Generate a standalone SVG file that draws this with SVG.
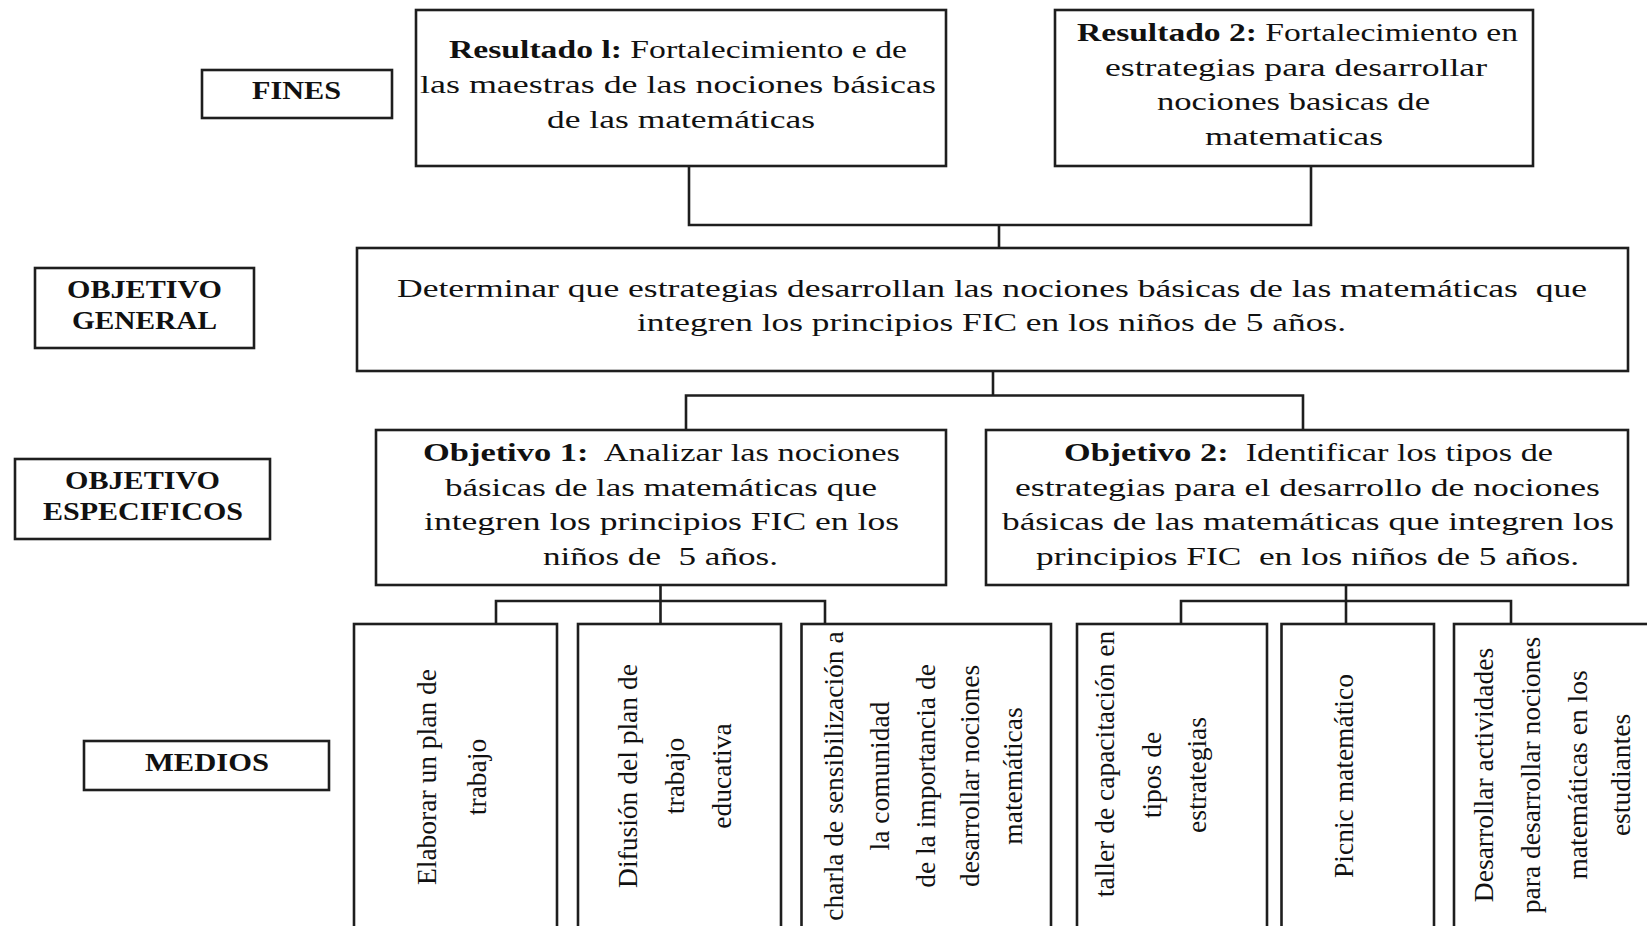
<svg xmlns="http://www.w3.org/2000/svg" width="1647" height="926" viewBox="0 0 1647 926" xml:space="preserve">
<style>
.box{fill:#fff;stroke:#1e1e1e;stroke-width:2.6}
.con{fill:none;stroke:#1e1e1e;stroke-width:2.6}
text{font-family:"Liberation Serif","Times New Roman",serif;fill:#111;white-space:pre}
.t{font-size:26px}
.lb{font-size:26px;font-weight:bold}
.b{font-weight:bold}
.v{font-size:27.5px;text-anchor:middle}
</style>
<rect x="0" y="0" width="1647" height="926" fill="#fff"/>
<g id="connectors">
<polyline class="con" points="689,166 689,225 1311,225 1311,166"/>
<line class="con" x1="999" y1="225" x2="999" y2="248"/>
<line class="con" x1="993" y1="371" x2="993" y2="395.5"/>
<polyline class="con" points="686,430 686,395.5 1303,395.5 1303,430"/>
<line class="con" x1="660.5" y1="585" x2="660.5" y2="624"/>
<polyline class="con" points="496,624 496,601 825,601 825,624"/>
<line class="con" x1="1346" y1="585" x2="1346" y2="624"/>
<polyline class="con" points="1181,624 1181,601 1511,601 1511,624"/>
</g>
<g id="label-fines">
<rect class="box" x="202" y="70" width="190" height="48"/>
<text class="lb" x="252" y="98.5" textLength="89" lengthAdjust="spacingAndGlyphs">FINES</text>
</g>
<g id="label-objetivo-general">
<rect class="box" x="35" y="268" width="219" height="80"/>
<text class="lb" x="67" y="298" textLength="155" lengthAdjust="spacingAndGlyphs">OBJETIVO</text>
<text class="lb" x="72" y="329" textLength="145" lengthAdjust="spacingAndGlyphs">GENERAL</text>
</g>
<g id="label-objetivo-especificos">
<rect class="box" x="15" y="459" width="255" height="80"/>
<text class="lb" x="65" y="489" textLength="155" lengthAdjust="spacingAndGlyphs">OBJETIVO</text>
<text class="lb" x="43" y="520" textLength="200" lengthAdjust="spacingAndGlyphs">ESPECIFICOS</text>
</g>
<g id="label-medios">
<rect class="box" x="84" y="741" width="245" height="49"/>
<text class="lb" x="145" y="771" textLength="124" lengthAdjust="spacingAndGlyphs">MEDIOS</text>
</g>
<g id="resultado-1">
<rect class="box" x="416" y="10" width="530" height="156"/>
<text class="t" x="449" y="58" textLength="458" lengthAdjust="spacingAndGlyphs"><tspan class="b">Resultado l:</tspan> Fortalecimiento e de</text>
<text class="t" x="420" y="93" textLength="516" lengthAdjust="spacingAndGlyphs">las maestras de las nociones básicas</text>
<text class="t" x="547" y="128" textLength="268" lengthAdjust="spacingAndGlyphs">de las matemáticas</text>
</g>
<g id="resultado-2">
<rect class="box" x="1055" y="10" width="478" height="156"/>
<text class="t" x="1077" y="41" textLength="441" lengthAdjust="spacingAndGlyphs"><tspan class="b">Resultado 2:</tspan> Fortalecimiento en</text>
<text class="t" x="1105" y="75.5" textLength="382" lengthAdjust="spacingAndGlyphs">estrategias para desarrollar</text>
<text class="t" x="1157" y="110" textLength="273" lengthAdjust="spacingAndGlyphs">nociones basicas de</text>
<text class="t" x="1205" y="144.5" textLength="178" lengthAdjust="spacingAndGlyphs">matematicas</text>
</g>
<g id="objetivo-general">
<rect class="box" x="357" y="248" width="1271" height="123"/>
<text class="t" x="397" y="297" textLength="1190" lengthAdjust="spacingAndGlyphs">Determinar que estrategias desarrollan las nociones básicas de las matemáticas  que</text>
<text class="t" x="637" y="331" textLength="709" lengthAdjust="spacingAndGlyphs">integren los principios FIC en los niños de 5 años.</text>
</g>
<g id="objetivo-1">
<rect class="box" x="376" y="430" width="570" height="155"/>
<text class="t" x="423" y="461" textLength="477" lengthAdjust="spacingAndGlyphs"><tspan class="b">Objetivo 1:</tspan>  Analizar las nociones</text>
<text class="t" x="445" y="495.5" textLength="432" lengthAdjust="spacingAndGlyphs">básicas de las matemáticas que</text>
<text class="t" x="424" y="530" textLength="475" lengthAdjust="spacingAndGlyphs">integren los principios FIC en los</text>
<text class="t" x="543" y="564.5" textLength="235" lengthAdjust="spacingAndGlyphs">niños de  5 años.</text>
</g>
<g id="objetivo-2">
<rect class="box" x="986" y="430" width="642" height="155"/>
<text class="t" x="1064" y="461" textLength="489" lengthAdjust="spacingAndGlyphs"><tspan class="b">Objetivo 2:</tspan>  Identificar los tipos de</text>
<text class="t" x="1015" y="495.5" textLength="585" lengthAdjust="spacingAndGlyphs">estrategias para el desarrollo de nociones</text>
<text class="t" x="1002" y="530" textLength="612" lengthAdjust="spacingAndGlyphs">básicas de las matemáticas que integren los</text>
<text class="t" x="1036" y="564.5" textLength="543" lengthAdjust="spacingAndGlyphs">principios FIC  en los niños de 5 años.</text>
</g>
<g id="medio-1">
<rect class="box" x="354" y="624" width="203" height="330"/>
<text class="v" transform="translate(436,777) rotate(-90)">Elaborar un plan de</text>
<text class="v" transform="translate(486,777) rotate(-90)">trabajo</text>
</g>
<g id="medio-2">
<rect class="box" x="578" y="624" width="203" height="330"/>
<text class="v" transform="translate(637,776) rotate(-90)">Difusión del plan de</text>
<text class="v" transform="translate(684,776) rotate(-90)">trabajo</text>
<text class="v" transform="translate(731,776) rotate(-90)">educativa</text>
</g>
<g id="medio-3">
<rect class="box" x="801.5" y="624" width="249.5" height="330"/>
<text class="v" transform="translate(843,776) rotate(-90)">charla de sensibilización a</text>
<text class="v" transform="translate(889,776) rotate(-90)">la comunidad</text>
<text class="v" transform="translate(935,776) rotate(-90)">de la importancia de</text>
<text class="v" transform="translate(979,776) rotate(-90)">desarrollar nociones</text>
<text class="v" transform="translate(1022,776) rotate(-90)">matemáticas</text>
</g>
<g id="medio-4">
<rect class="box" x="1077" y="624" width="190" height="330"/>
<text class="v" transform="translate(1114,764) rotate(-90)">taller de capacitación en</text>
<text class="v" transform="translate(1161,775) rotate(-90)">tipos de</text>
<text class="v" transform="translate(1206,775) rotate(-90)">estrategias</text>
</g>
<g id="medio-5">
<rect class="box" x="1281.5" y="624" width="152.5" height="330"/>
<text class="v" transform="translate(1353,776) rotate(-90)">Picnic matemático</text>
</g>
<g id="medio-6">
<rect class="box" x="1454" y="624" width="230" height="330"/>
<text class="v" transform="translate(1493,775) rotate(-90)">Desarrollar actividades</text>
<text class="v" transform="translate(1540,775) rotate(-90)">para desarrollar nociones</text>
<text class="v" transform="translate(1587,775) rotate(-90)">matemáticas en los</text>
<text class="v" transform="translate(1630,775) rotate(-90)">estudiantes</text>
</g>
</svg>
